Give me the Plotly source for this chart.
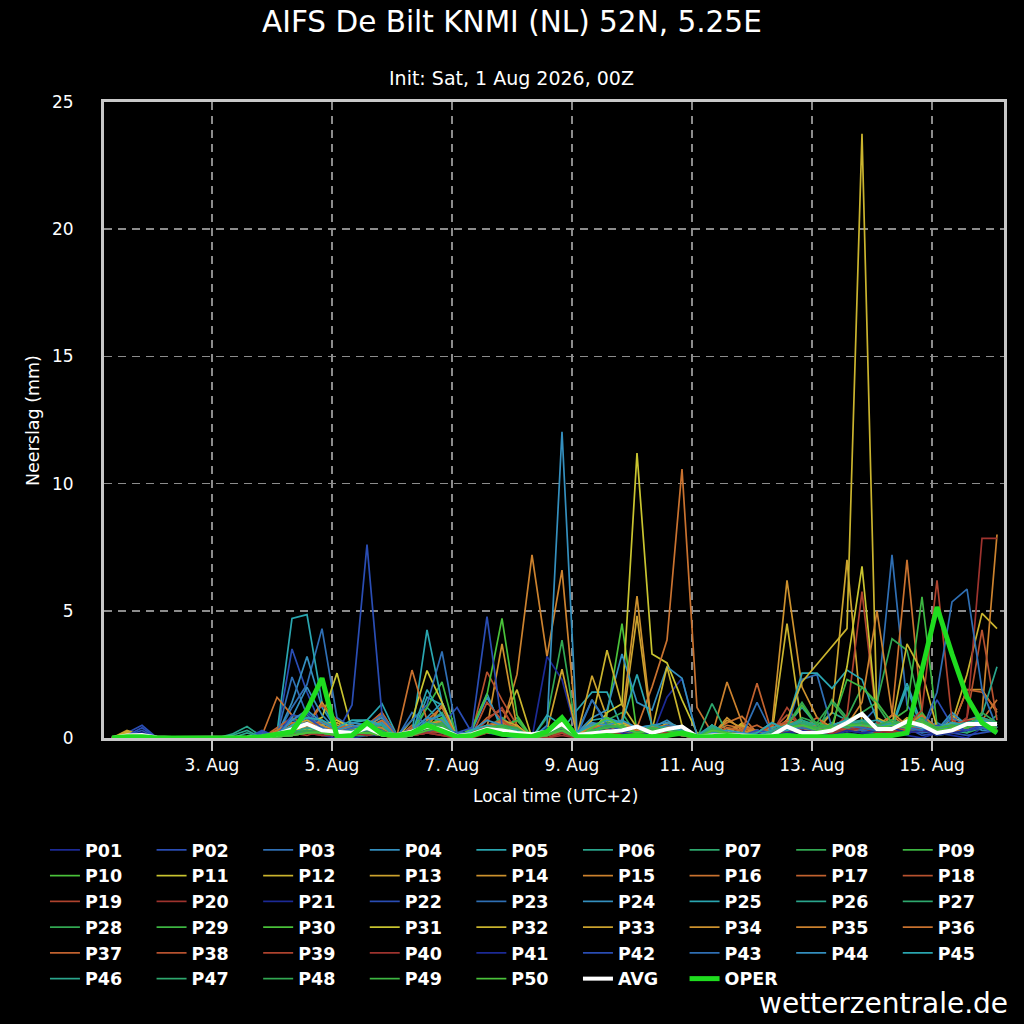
import plotly.graph_objects as go
import pandas as pd

# ---- time axis (6-hourly steps, local time UTC+2) ----
START = "2026-08-01 08:00"
N_STEPS = 60
times = pd.date_range(START, periods=N_STEPS, freq="6h")

TICK_DATES = ["2026-08-03", "2026-08-05", "2026-08-07", "2026-08-09",
              "2026-08-11", "2026-08-13", "2026-08-15"]
TICK_LABELS = ["3. Aug", "5. Aug", "7. Aug", "9. Aug", "11. Aug", "13. Aug", "15. Aug"]
Y_TICKS = [0, 5, 10, 15, 20, 25]

# ---- ensemble members: 6-hourly precipitation (mm) ----
P01 = [0,0.1,0.2,0,0,0,0,0,0,0, 0,0.1,0.2,0.4,0.1,0,0,0.1,0.1,0, 0.1,0.2,0.5,0,0.1,0.2,0.1,0,0,0.3, 0.2,0,0.1,0.2,0.1,0,0.1,1.6,2.35,0.1, 0,0,0.1,0,0,0.2,0.1,0,0.1,0.2, 0.1,0,0.3,0.1,0,0.2,0.1,0,0.4,0.2]
P02 = [0,0.2,0.5,0,0,0,0,0,0,0, 0.2,0.1,3.5,1.8,0.4,0.1,0.2,0.3,0.2,0, 0.2,0.3,0.2,0,0,0.4,0.2,0.1,0,0.2, 0.3,0,0.1,0.2,0.3,0.1,0,0.2,0.1,0, 0.1,0,0.1,0.3,0,0.2,0.3,0.1,0,0.4, 0.3,0.1,0.2,0.4,0.1,0.2,0.2,0.1,0.2,0.3]
P03 = [0,0,0.1,0,0,0,0,0,0,0, 0.1,0.1,1.2,2.1,4.3,0.8,0.4,0.3,0.2,0, 0.3,0.6,0.4,0,0.2,0.3,0.1,0,0,0.1, 0.4,0,0.6,0.3,0.2,0.1,0,0.3,0.2,0, 0,0,0.1,0.2,0.1,0.3,0.4,0.2,0.1,0.3, 0.6,1.2,7.2,1.3,0.4,0.6,0.3,0.3,0.4,0.2]
P04 = [0,0.1,0.1,0,0,0,0,0,0,0, 0,0.1,1.4,3.2,1.2,0.3,0.6,0.5,0.8,0.1, 0.3,0.8,1.4,0.1,0.3,0.2,0.3,0.1,0,0.3, 0.5,0.2,1.5,0.6,0.3,0.2,0.4,0.7,0.3,0, 0.1,0.2,0,0.3,0.2,0.1,0.6,0.3,0.2,0.8, 0.4,0.3,0.7,0.5,0.3,0.2,0.4,0.6,0.3,0.3]
P05 = [0,0.1,0.1,0,0,0,0,0,0,0, 0,0.2,4.7,4.85,1.4,0.3,0.6,0.7,1.35,0.1, 0.1,1.6,1.3,0,0.4,1.75,0.3,0.2,0,0.1, 0.3,1.1,1.8,1.8,0.4,0.2,0.3,0.3,0.2,0, 0.5,0.1,0,0.2,0.6,0.3,0.2,0.4,0.3,0.6, 0.3,0.6,0.4,2.0,0.3,0.2,0.9,0.4,0.6,0.3]
P06 = [0,0,0.1,0,0,0,0,0,0.15,0.45, 0.05,0,0.2,0.6,0.3,0.1,0.3,0.2,0.4,0, 0.1,1.2,0.6,0,0.2,0.3,0.4,0.3,0,0.2, 0.4,0.1,0.3,0.7,0.5,0.2,0.4,0.2,0.1,0, 0.5,0.2,0.1,0,0.3,0.5,1.2,0.5,1.0,0.7, 0.5,0.3,0.4,0.3,0.6,0.2,0.3,0.2,0.8,0.4]
P07 = [0,0.05,0.15,0,0,0,0,0,0,0, 0,0.05,0.1,0.3,0.2,0.1,0.1,0.2,0.3,0, 0.1,0.6,1.0,0,0.4,0.2,0.3,0.8,0,0.4, 0.6,0,0.2,0.4,0.7,0.1,0.3,0.5,0.2,0, 0.3,0.1,0.1,0,0.1,0.3,0.6,0.5,0.3,0.4, 0.7,0.4,0.6,0.4,0.8,0.3,0.5,0.2,0.4,0.9]
P08 = [0,0,0.1,0,0,0,0,0,0,0, 0,0.1,0.2,0.4,0.2,0.1,0.1,0.1,0.2,0, 0.1,0.3,0.7,0,0.2,0.3,0.6,0.4,0,0.8, 3.85,0.1,0.3,0.7,1.0,0.1,0.4,0.1,0.1,0, 0.1,0.1,0,0.1,0,0.5,0.7,0.2,1.5,0.8, 2.0,1.3,0.4,0.7,0.8,0.2,0.3,0.4,0.8,0.5]
P09 = [0,0,0.05,0,0,0,0,0,0,0, 0,0.05,0.2,0.3,0.5,0.2,0.1,0.2,0.2,0, 0.3,1.2,2.2,0,0.3,0.3,0.4,0.2,0,0.1, 0.3,0,0.3,0.7,0.4,0.1,0.4,0.2,0.1,0, 0.2,0.1,0.1,0,0.1,0.2,0.4,0.3,0.6,0.4, 0.3,0.4,0.7,0.2,0.4,0.1,0.2,0.5,0.7,0.3]
P10 = [0,0,0,0,0,0,0,0,0,0, 0,0.05,0.1,0.2,0.4,0.2,0.1,0.2,0.1,0, 0.2,0.4,0.5,0,0.2,0.3,0.3,0.1,0,0.2, 0.3,0,0.3,0.9,4.5,0.2,0.4,0.3,0.1,0, 0.2,0.1,0.1,0,0.1,0.5,1.3,0.5,0.4,0.3, 0.4,0.3,0.6,0.4,1.0,0.2,0.4,0.3,0.5,0.4]
P11 = [0,0.2,0.1,0,0,0,0,0,0,0, 0,0.1,0.3,0.6,0.8,2.55,0.3,0.2,0.2,0, 0.2,0.6,0.4,0,0.1,0.2,0.3,0.5,0,0.1, 0.6,0,0.2,1.0,1.35,11.2,3.3,2.95,1.5,0.2, 0,0.2,0.5,0.1,0,0.6,0.3,0.2,0.3,0.4, 0.4,0.2,0.3,0.7,0.4,0.2,0.8,0.6,0.4,0.3]
P12 = [0,0.25,0.1,0,0,0,0,0,0,0, 0,0.1,0.4,0.3,0.3,0.6,0.3,0.2,0.1,0, 0.3,0.5,0.3,0,0.2,0.4,0.6,1.9,0,0.2, 0.3,0,0.4,0.5,0.3,0.2,0.2,0.6,0.4,0, 0.2,0.1,0.6,0.1,0.2,4.5,0.4,0.2,0.2,0.3, 0.6,0.4,0.3,0.8,0.5,0.2,0.6,2.5,4.9,4.3]
P13 = [0,0.3,0.1,0,0,0,0,0,0,0, 0,0.2,0.3,0.5,0.4,0.3,0.2,0.3,0.2,0, 0.3,0.3,0.4,0,0.1,0.3,0.7,0.3,0,0.2, 0.7,0.1,2.45,0.8,0.4,4.8,0.3,0.4,0.2,0, 0.1,0.2,0.1,0.2,0,0.7,0.4,0.3,1.0,7.0, 0.6,0.4,0.3,0.4,0.5,0.2,0.3,0.4,0.7,0.4]
P14 = [0,0.2,0.1,0,0,0,0,0,0,0, 0,0.3,0.6,0.5,1.4,0.5,0.3,0.4,0.9,0.1, 0.3,0.4,0.5,0,0.1,0.4,3.7,0.4,0,0.1, 0.4,0,0.3,0.6,0.4,0.3,0.3,0.4,0.3,0, 0.1,0.8,0.3,0.1,0.45,6.2,2.0,0.8,0.4,0.3, 0.3,0.4,0.5,0.3,0.7,0.2,0.4,1.9,1.9,1.0]
P15 = [0,0.1,0.1,0,0,0,0,0,0,0, 0,0.2,0.5,0.8,0.5,0.2,0.4,0.5,0.6,0, 0.2,0.4,1.3,0,0.2,0.3,0.4,2.5,7.2,3.2, 6.6,0.1,0.4,0.3,0.2,0.3,0.2,0.3,0.2,0, 0.1,2.2,0.6,0.2,0.1,0.4,0.3,0.2,0.2,0.4, 0.3,0.3,0.9,0.4,0.5,0.3,0.2,0.4,1.0,8.0]
P16 = [0,0.1,0.1,0,0,0,0,0,0,0, 0.1,1.6,0.9,0.8,0.4,0.3,0.2,0.5,1.0,0.1, 0.4,0.2,0.4,0,0.1,0.2,0.4,0.2,0,0.1, 0.3,0,0.5,0.2,0.3,0.4,2.0,3.85,10.57,1.2, 0.2,0.6,0.85,0.2,0.1,0.5,0.4,0.3,0.3,0.4, 0.3,0.5,0.9,7.0,0.9,0.3,0.3,0.4,0.6,0.5]
P17 = [0,0.1,0,0,0,0,0,0,0,0, 0,0.4,0.8,0.5,1.3,0.7,0.3,0.5,1.0,0, 0.5,0.3,0.7,0,0.2,0.8,1.1,0.3,0,0.1, 0.4,0,0.6,0.3,0.3,0.4,0.3,0.2,0.2,0, 0.1,0.3,0.2,2.15,0.2,0.7,0.4,0.8,0.3,0.4, 0.3,0.4,0.6,0.3,0.5,0.3,0.4,1.9,1.8,1.1]
P18 = [0,0,0,0,0,0,0,0,0,0, 0,0.1,0.3,0.2,0.5,0.2,0.3,0.4,0.2,0, 0.2,0.3,0.2,0,0.2,2.6,1.5,0.5,0,0.1, 0.3,0,0.2,0.1,0.3,0.2,0.3,0.2,0.1,0, 0,0.2,0.1,0.2,0.3,0.9,0.5,0.3,0.4,0.3, 0.5,0.2,0.4,0.3,0.5,0.4,0.3,0.8,4.25,0.7]
P19 = [0,0,0,0,0,0,0,0,0,0, 0,0.05,0.2,0.3,0.2,0.1,0.2,0.3,0.1,0, 0.1,0.2,0.4,0,0.1,0.7,1.2,0.2,0,0.1, 0.2,0,0.2,0.1,0.2,0.1,0.2,0.1,0.2,0, 0,0.1,0,0.1,0.2,1.2,0.4,0.2,0.3,0.9, 5.75,0.6,0.4,0.3,0.4,0.2,0.3,0.4,0.5,0.3]
P20 = [0,0,0,0,0,0,0,0,0,0, 0,0.05,0.1,0.2,0.1,0.2,0.1,0.2,0.1,0, 0.1,0.2,0.1,0,0,0.3,0.5,0.1,0,0, 0.2,0,0.1,0.2,0.1,0.2,0.1,0.2,0.1,0, 0,0.1,0,0,0.2,0.3,0.2,0.1,0.2,0.4, 0.5,0.3,0.2,0.4,0.3,0.2,0.4,0.8,7.85,7.85]
P21 = [0,0.1,0.1,0,0,0,0,0,0,0, 0.05,0.05,0.5,0.7,0.3,0.1,0.2,0.3,0.2,0, 0.2,0.4,0.3,0,0.1,0.3,0.2,0.1,0,3.2, 2.3,0.1,0.3,0.5,0.2,0.1,0.2,0.3,0.2,0, 0,0.1,0.2,0.1,0,0.2,0.3,0.1,0.2,0.3, 0.2,0.1,0.4,0.2,0.3,0.1,0.2,0.3,0.4,0.2]
P22 = [0,0.1,0.3,0,0,0,0,0,0,0, 0.3,0.05,0.7,1.0,0.5,0.2,1.3,7.6,0.9,0.1, 0.4,0.2,0.5,1.2,0.2,0.4,0.3,0.1,0,0.2, 0.5,0,0.3,0.4,0.2,0.1,0.3,0.5,0.3,0, 0.1,0.2,0.1,0.3,0.2,0.4,0.5,0.2,0.3,0.4, 0.3,0.2,0.5,0.3,0.2,1.5,0.5,0.3,0.4,0.2]
P23 = [0,0,0.1,0,0,0,0,0,0,0, 0.15,0.1,2.4,0.9,0.4,0.2,0.5,0.4,0.7,0, 1.0,0.5,0.3,0,0.2,0.5,0.4,0.2,0,0.3, 0.4,0.1,0.5,0.3,0.4,0.2,0.1,0.4,0.5,0, 0,0.1,0.2,0.3,0.1,0.4,2.3,2.5,0.4,0.5, 0.3,0.2,0.4,0.5,0.2,0.3,0.8,0.5,0.4,0.3]
P24 = [0,0,0.1,0,0,0,0,0,0,0, 0,0.1,0.8,2.0,0.9,0.3,0.6,0.5,0.4,0, 0.2,0.7,0.9,0.1,0.3,1.6,0.5,0.2,0,0.4, 0.5,0.2,0.8,1.1,3.3,1.4,1.1,2.8,2.35,0.1, 0.5,0.2,0.1,0.2,0.6,0.3,0.5,0.4,0.3,0.6, 0.5,0.4,0.7,0.5,0.4,0.3,1.0,0.5,0.7,0.4]
P25 = [0,0,0.1,0,0,0,0,0,0,0, 0,0.1,0.4,0.7,0.5,0.2,0.4,0.6,0.5,0, 0.2,4.25,1.4,0,0.3,0.5,0.4,0.3,0,0.2, 0.5,0.1,0.7,0.8,0.6,0.4,0.5,0.3,0.2,0, 0.4,0.1,0.2,0.1,0.4,0.6,2.55,2.55,1.95,2.67, 2.3,0.7,0.5,2.15,0.5,0.3,0.6,0.4,0.5,0.4]
P26 = [0,0,0.05,0,0,0,0,0,0,0.2, 0,0.05,0.2,0.4,0.3,0.1,0.2,0.3,0.4,0, 0.1,0.5,0.4,0,0.2,0.3,0.5,0.2,0,0.2, 0.4,0,0.3,0.5,0.4,0.2,0.3,0.4,0.2,0, 0.4,0.2,0.1,0,0.2,0.4,0.6,0.5,0.4,0.5, 0.7,0.5,0.6,0.4,0.6,0.5,0.4,0.7,0.9,2.8]
P27 = [0,0,0,0,0,0,0,0,0,0, 0,0.05,0.1,0.3,0.2,0.1,0.2,0.1,0.3,0, 0.1,0.4,0.5,0,0.2,0.4,0.8,0.3,0,0.1, 0.3,0,0.2,0.4,0.6,0.2,0.3,0.2,0.1,0, 1.35,0.2,0.1,0,0.1,0.5,0.7,0.4,0.5,0.4, 0.6,0.4,0.5,0.4,0.7,0.3,0.4,0.5,0.6,0.5]
P28 = [0,0,0,0,0,0,0,0,0,0, 0,0.05,0.2,0.4,0.3,0.1,0.2,0.3,0.2,0, 0.2,0.5,0.7,0,0.2,0.4,0.5,0.3,0,0.1, 0.4,0,0.3,0.6,0.5,0.2,0.4,0.3,0.2,0, 0.3,0.2,0.1,0,0.1,0.4,0.8,0.6,1.4,0.7, 1.0,1.4,3.9,3.45,0.9,0.4,0.5,0.4,0.6,0.5]
P29 = [0,0,0,0,0,0,0,0,0,0, 0,0.05,0.1,0.3,0.4,0.1,0.2,0.2,0.3,0, 0.2,0.4,0.6,0,0.1,0.3,0.4,0.7,0,0.3, 0.5,0,0.4,0.7,0.5,0.2,0.5,0.3,0.2,0, 0.4,0.2,0.1,0,0.2,0.6,0.5,0.6,0.4,0.5, 0.6,0.4,0.7,1.1,5.55,0.5,0.4,0.6,0.7,0.5]
P30 = [0,0,0,0,0,0,0,0,0,0, 0,0.05,0.2,0.3,0.2,0.1,0.2,0.3,0.2,0, 0.2,0.5,0.8,0,0.4,1.7,4.7,0.9,0,0.2, 0.4,0,0.3,0.5,0.4,0.2,0.4,0.3,0.2,0, 0.3,0.2,0.1,0,0.1,0.5,0.6,0.4,0.5,0.4, 0.5,0.4,0.6,0.4,0.7,0.3,0.4,0.5,0.6,0.4]
P31 = [0,0.2,0.1,0,0,0,0,0,0,0, 0,0.1,0.4,0.3,0.5,0.7,0.4,0.3,0.2,0, 0.7,2.65,1.4,0,0.1,0.3,0.5,0.4,0,0.2, 0.5,0,0.4,0.7,0.5,0.4,0.3,0.5,0.4,0, 0.1,0.2,0.5,0.1,0.2,0.7,0.5,0.4,0.3,2.8, 6.75,0.7,0.5,0.6,0.4,0.3,0.5,0.4,0.6,0.5]
P32 = [0,0.2,0.1,0,0,0,0,0,0,0, 0,0.1,0.3,0.5,0.4,0.3,0.5,0.4,0.2,0, 0.3,0.5,0.4,0,0.2,0.4,0.5,0.3,0,0.2, 0.5,0.1,0.7,3.45,1.3,0.4,0.3,2.8,0.5,0, 0.1,0.2,0.3,0.1,0.2,0.7,2.2,2.9,3.6,4.3, 23.75,0.8,0.5,3.7,2.6,0.4,0.5,0.4,0.6,0.5]
P33 = [0,0.2,0.1,0,0,0,0,0,0,0, 0,0.1,0.5,0.7,0.4,0.2,0.3,0.4,0.5,0, 0.3,0.4,0.6,0,0.2,0.4,0.7,0.5,0,0.3, 2.7,0.1,0.5,0.4,0.6,0.4,0.3,0.5,0.4,0, 0.2,0.3,0.5,0.2,0.1,0.6,0.4,0.3,0.5,0.7, 0.5,0.4,0.6,0.5,0.7,0.4,0.6,0.5,0.7,0.5]
P34 = [0,0.1,0.1,0,0,0,0,0,0,0, 0,0.2,0.4,0.6,0.5,0.3,0.4,0.5,0.3,0, 0.3,0.5,0.7,0,0.2,0.4,0.6,0.4,0,0.2, 0.5,0,0.4,0.5,0.7,5.58,0.4,0.5,0.3,0, 0.1,0.7,0.4,0.2,0.1,0.6,0.5,0.4,0.3,0.5, 0.4,0.5,0.6,0.4,0.7,0.3,0.5,0.6,0.7,0.5]
P35 = [0,0.1,0,0,0,0,0,0,0,0, 0,0.2,0.5,0.4,0.7,0.3,0.4,0.5,0.4,0, 0.3,0.4,0.6,0,0.2,0.3,0.5,0.4,0,0.2, 0.4,0,0.5,0.4,0.3,0.4,0.3,0.4,0.3,0, 0.1,0.4,0.3,0.2,0.1,0.5,0.4,0.3,0.4,0.5, 1.4,5.0,1.0,0.5,0.6,0.4,0.5,0.4,0.7,0.5]
P36 = [0,0.1,0,0,0,0,0,0,0,0, 0,0.3,0.6,0.5,0.4,0.3,0.5,0.4,0.7,0.1, 2.67,0.7,1.2,0,0.2,0.4,0.6,0.4,0,0.2, 0.4,0,0.4,0.5,0.4,0.3,0.4,0.5,0.3,0, 0.2,0.5,0.4,0.3,0.2,0.6,0.4,0.5,0.3,0.4, 0.5,0.4,0.6,0.5,0.9,0.4,0.5,0.6,0.7,1.5]
P37 = [0,0.1,0,0,0,0,0,0,0,0, 0,0.2,0.4,0.5,0.6,0.4,0.5,0.4,0.5,0, 0.4,0.3,0.5,0,0.2,0.5,0.7,0.3,0,0.1, 0.5,0,0.4,0.3,0.4,0.5,0.3,0.4,0.2,0, 0.1,0.4,0.3,0.5,0.2,0.7,0.5,0.3,0.4,0.5, 0.5,0.4,0.5,0.4,0.6,0.4,0.5,0.7,0.8,0.6]
P38 = [0,0,0,0,0,0,0,0,0,0, 0,0.1,0.3,0.2,0.4,0.2,0.3,0.4,0.3,0, 0.2,0.3,0.4,0,0.1,1.4,0.7,0.2,0,0.1, 0.3,0,0.2,0.3,0.2,0.1,0.3,0.2,0.1,0, 0,0.2,0.1,0.2,0.5,0.6,0.3,0.2,0.4,0.3, 0.4,0.3,0.4,0.3,0.5,0.2,0.4,0.5,0.6,0.4]
P39 = [0,0,0,0,0,0,0,0,0,0, 0,0.05,0.2,0.1,0.3,0.1,0.2,0.3,0.2,0, 0.1,0.2,0.3,0,0.1,0.4,0.5,0.1,0,0, 0.2,0,0.1,0.2,0.1,0.2,0.1,0.2,0.1,0, 0,0.1,0.2,0.1,0.2,0.5,0.3,0.2,0.3,0.4, 0.5,0.3,0.4,0.5,1.1,6.2,0.7,0.4,0.5,0.3]
P40 = [0,0,0,0,0,0,0,0,0,0, 0,0.05,0.1,0.2,0.1,0.1,0.2,0.1,0.2,0, 0.1,0.2,0.1,0,0,0.2,0.4,0.1,0,0, 0.1,0,0.1,0.1,0.2,0.1,0.1,0.2,0.1,0, 0,0.1,0,0.1,0.1,0.3,0.2,0.1,0.2,0.3, 0.4,0.2,0.3,0.2,0.3,0.2,0.3,0.7,0.5,0.4]
P41 = [0,0.1,0.2,0,0,0,0,0,0,0, 0.15,0.05,0.4,0.6,0.3,0.1,0.2,0.3,0.2,0, 0.2,0.3,0.4,0,0.1,0.3,0.2,0.1,0,0.4, 0.3,0,0.2,0.4,0.2,0.1,0.2,0.3,0.4,0, 0,0.1,0.1,0.2,0.1,0.2,0.3,0.2,0.1,0.3, 0.2,0.3,0.4,0.2,0.3,0.2,0.4,0.3,0.5,0.2]
P42 = [0,0.1,0.4,0,0,0,0,0,0,0, 0.25,0.1,0.9,0.8,0.4,0.2,0.4,0.5,0.3,0, 0.2,0.5,0.4,0.2,0.4,4.77,0.5,0.2,0,0.3, 0.4,0,0.3,0.5,0.3,0.2,0.3,0.4,0.3,0, 0.1,0.2,0.1,0.3,0.2,0.4,0.5,0.3,0.4,0.5, 0.4,0.3,0.5,0.4,0.3,0.5,0.4,0.3,0.5,0.4]
P43 = [0,0,0.1,0,0,0,0,0,0,0, 0.15,0.1,0.7,0.5,0.4,0.2,0.4,0.5,0.9,0.1, 0.7,1.3,3.4,0.2,0.2,0.4,0.3,0.2,0,0.3, 0.4,0.1,1.5,0.5,0.4,0.2,0.3,0.5,0.4,0, 0.1,0.2,0.1,1.4,0.2,0.3,0.4,0.3,0.4,0.5, 0.4,0.3,0.5,0.4,0.3,1.8,5.35,5.85,1.9,0.4]
P44 = [0,0,0.1,0,0,0,0,0,0,0, 0,0.1,0.7,1.1,0.6,0.3,0.5,0.4,0.6,0, 0.3,0.8,0.7,0,0.3,0.7,0.5,0.3,0,0.5, 12.04,0.2,0.6,0.5,0.7,0.4,0.5,0.6,0.4,0, 0.2,0.3,0.2,0.1,0.3,0.5,0.6,0.4,0.5,0.7, 0.5,0.4,0.6,0.5,0.4,0.3,0.5,0.6,0.7,0.5]
P45 = [0,0,0.1,0,0,0,0,0,0,0, 0,0.1,0.5,0.8,0.7,0.4,0.7,0.7,0.5,0, 0.2,1.9,0.9,0,0.3,0.5,0.4,0.3,0,0.9, 0.5,0.2,0.5,0.7,0.6,2.5,0.5,0.4,0.3,0, 0.5,0.2,0.1,0.2,0.6,0.3,0.5,0.4,0.5,0.7, 0.6,0.7,0.5,0.6,0.5,0.4,0.6,0.5,0.7,0.5]
P46 = [0,0,0.1,0,0,0,0,0,0.1,0.3, 0,0.05,0.2,0.4,0.3,0.2,0.3,0.4,0.5,0, 0.1,0.6,0.5,0,0.2,0.4,0.5,0.3,0,0.2, 0.4,0,0.3,0.5,0.4,0.2,0.5,0.4,0.2,0, 0.5,0.2,0.1,0,0.3,0.5,0.7,0.5,0.4,0.6, 0.7,0.5,0.6,0.5,0.7,0.4,0.5,0.6,0.8,0.6]
P47 = [0,0,0,0,0,0,0,0,0,0, 0,0.05,0.1,0.3,0.2,0.1,0.2,0.3,0.2,0, 0.2,0.4,0.5,0,0.1,0.3,0.4,0.2,0,0.2, 0.3,0,0.3,0.4,0.5,0.2,0.4,0.3,0.2,0, 0.4,0.2,0.1,0,0.2,0.4,0.6,0.4,0.5,0.4, 0.6,0.4,0.5,0.4,0.6,0.3,0.4,0.5,0.6,0.5]
P48 = [0,0,0,0,0,0,0,0,0,0, 0,0.05,0.2,0.3,0.2,0.1,0.2,0.2,0.3,0, 0.1,0.4,0.6,0,0.2,0.3,0.5,0.4,0,0.2, 0.4,0,0.2,0.5,0.4,0.2,0.3,0.4,0.2,0, 0.3,0.2,0.1,0,0.1,0.5,1.4,0.5,0.4,0.5, 0.6,0.5,0.7,0.5,0.6,0.4,0.5,0.4,1.0,0.6]
P49 = [0,0,0,0,0,0,0,0,0,0, 0,0.05,0.1,0.2,0.3,0.1,0.2,0.2,0.2,0, 0.2,0.4,0.5,0,0.1,0.4,0.5,0.2,0,0.1, 0.4,0,0.3,0.4,0.5,0.2,0.4,0.3,0.1,0, 0.3,0.2,0.1,0,0.1,0.4,0.5,0.4,0.5,2.3, 2.0,1.4,0.6,0.5,0.7,0.4,0.5,0.4,0.6,0.5]
P50 = [0,0,0,0,0,0,0,0,0,0, 0,0.05,0.1,0.2,0.2,0.1,0.2,0.2,0.1,0, 0.1,0.3,0.4,0,0.1,0.3,0.4,0.2,0,0.1, 0.3,0,0.4,0.8,0.4,0.2,0.3,0.3,0.1,0, 0.3,0.2,0.1,0,0.1,0.4,0.5,0.3,0.4,0.5, 0.5,0.4,0.5,0.4,0.6,0.3,0.4,0.5,0.6,0.4]

MEMBERS = [P01, P02, P03, P04, P05, P06, P07, P08, P09, P10,
           P11, P12, P13, P14, P15, P16, P17, P18, P19, P20,
           P21, P22, P23, P24, P25, P26, P27, P28, P29, P30,
           P31, P32, P33, P34, P35, P36, P37, P38, P39, P40,
           P41, P42, P43, P44, P45, P46, P47, P48, P49, P50]
MEMBER_NAMES = ["P%02d" % (k + 1) for k in range(len(MEMBERS))]

# ensemble mean and operational run
AVG = [0,0.1,0.12,0.02,0,0,0,0,0.01,0.02, 0.05,0.15,0.35,0.55,0.3,0.25,0.2,0.4,0.15,0.12, 0.25,0.45,0.35,0.08,0.15,0.35,0.3,0.2,0.15,0.25, 0.55,0.12,0.2,0.25,0.3,0.45,0.2,0.35,0.45,0.05, 0.1,0.12,0.1,0.06,0.1,0.45,0.2,0.2,0.3,0.6, 0.95,0.35,0.35,0.65,0.5,0.2,0.3,0.55,0.55,0.55]
OPER = [0,0.05,0.05,0,0,0,0,0,0,0, 0.05,0.15,0.25,1.1,2.35,0.05,0.1,0.6,0.15,0.1, 0.2,0.5,0.25,0.05,0.1,0.3,0.15,0.1,0.05,0.25, 0.8,0.05,0.05,0.1,0.05,0.1,0.05,0.1,0.2,0.05, 0.05,0.1,0.05,0.05,0.05,0.1,0.05,0.05,0.05,0.1, 0.05,0.1,0.1,0.2,2.6,5.15,3.3,1.6,0.6,0.2]

for arr in MEMBERS + [AVG, OPER]:
    assert len(arr) == N_STEPS, len(arr)

# ---- styles ----
PALETTE = ["#1c2a96", "#2a4db4", "#2f6fb4", "#348fbe", "#2aa6b0",
           "#2aa58c", "#2ea86e", "#32a852", "#3db642", "#4ac23a",
           "#c9c530", "#cab42e", "#cca32e", "#cd922e", "#cc822e",
           "#c9722f", "#c2622f", "#b7522f", "#ae432e", "#9e332e"]
FONT = "DejaVu Sans"

fig = go.Figure()
for k, vals in enumerate(MEMBERS):
    fig.add_trace(go.Scatter(x=times, y=vals, mode="lines", name=MEMBER_NAMES[k],
                             line=dict(color=PALETTE[k % 20], width=1.7)))
fig.add_trace(go.Scatter(x=times, y=AVG, mode="lines", name="AVG",
                         line=dict(color="#ffffff", width=4)))
fig.add_trace(go.Scatter(x=times, y=OPER, mode="lines", name="OPER",
                         line=dict(color="#1fdc1f", width=5)))

GRID = dict(showgrid=True, gridcolor="#8c8c8c", gridwidth=1.5, griddash="8px,6px",
            showline=True, linecolor="#c8c8c8", linewidth=3, mirror=True, zeroline=False)

fig.update_layout(
    width=1024, height=1024,
    paper_bgcolor="black", plot_bgcolor="black",
    margin=dict(l=104, r=20, t=102, b=286, autoexpand=False),
    font=dict(family=FONT, color="white", size=17),
    hovermode=False,
    showlegend=True,
    legend=dict(orientation="h", x=-0.0656, xanchor="left", y=-0.1478, yanchor="top",
                font=dict(family=FONT, size=17.5, color="white", weight="bold"),
                entrywidth=61.6, entrywidthmode="pixels", bgcolor="rgba(0,0,0,0)",
                tracegroupgap=0, itemwidth=30, traceorder="normal"),
    xaxis=dict(type="date", range=["2026-08-01 04:48", "2026-08-16 04:48"],
               tickvals=TICK_DATES, ticktext=TICK_LABELS,
               ticks="outside", ticklen=10, tickwidth=2, tickcolor="#c8c8c8",
               tickfont=dict(family=FONT, size=17, color="white"), **GRID),
    yaxis=dict(range=[0, 25], tickvals=Y_TICKS, ticks="", ticklabelstandoff=24,
               tickfont=dict(family=FONT, size=17, color="white"), **GRID),
    annotations=[
        dict(text="AIFS De Bilt KNMI (NL) 52N, 5.25E", x=0.4533, y=1.1258, xref="paper", yref="paper",
             showarrow=False, xanchor="center", yanchor="middle", font=dict(family=FONT, size=29.5, color="white")),
        dict(text="Init: Sat, 1 Aug 2026, 00Z", x=0.4533, y=1.0377, xref="paper", yref="paper",
             showarrow=False, xanchor="center", yanchor="middle", font=dict(family=FONT, size=19, color="white")),
        dict(text="Local time (UTC+2)", x=0.502, y=-0.0912, xref="paper", yref="paper",
             showarrow=False, xanchor="center", yanchor="middle", font=dict(family=FONT, size=17, color="white")),
        dict(text="Neerslag (mm)", x=-0.0789, y=0.5, xref="paper", yref="paper", textangle=-90,
             showarrow=False, xanchor="center", yanchor="middle", font=dict(family=FONT, size=17.5, color="white")),
        dict(text="wetterzentrale.de", x=1.0067, y=-0.4167, xref="paper", yref="paper",
             showarrow=False, xanchor="right", yanchor="middle", font=dict(family=FONT, size=28, color="white")),
    ],
)

fig.write_html("out.html", config={"displayModeBar": False, "staticPlot": True},
               post_script="document.body.style.margin='0';document.body.style.background='black';")
